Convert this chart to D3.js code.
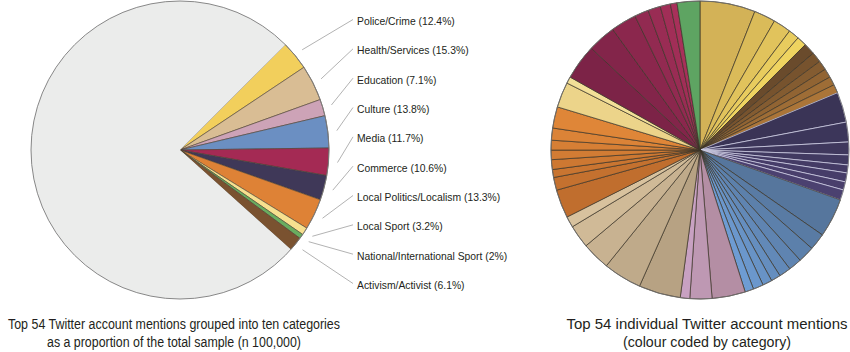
<!DOCTYPE html>
<html>
<head>
<meta charset="utf-8">
<script src="https://cdnjs.cloudflare.com/ajax/libs/d3/7.8.5/d3.min.js"></script>
<style>
    body { margin: 0; background: #fff; }
    svg text { font-family: 'Liberation Sans', 'DejaVu Sans', sans-serif; fill: #231f20; }
</style>
</head>
<body>
<div id="chart"></div>
<script>

// ---- DATA ----
// left pie, clockwise from the top of the coloured wedge
let categories = ["Police/Crime", "Health/Services", "Education", "Culture", "Media", "Commerce",
    "Local Politics/Localism", "Local Sport", "National/International Sport", "Activism/Activist"];
let categoryShares = [12.4, 15.3, 7.1, 13.8, 11.7, 10.6, 13.3, 3.2, 2, 6.1];
let otherShare = 300;   // rest of the sample (grey)

// right pie, one value per account, clockwise from 12 o'clock
let accountOrder = ["Police/Crime", "Activism/Activist", "Commerce", "Culture", "Education",
    "Health/Services", "Local Politics/Localism", "Local Sport", "Media", "National/International Sport"];
let policeAccounts = [6.0, 2.33, 1.94, 1.17, 1.06];
let activismAccounts = [1.25, 1.11, 1.03, 0.97, 0.94, 0.92];
let commerceAccounts = [3.28, 2.14, 1.39, 1.08, 0.86, 0.97, 0.89, 1.11];
let cultureAccounts = [4.22, 1.83, 1.78, 1.44, 1.28, 1.03, 1.03, 1.11, 0.94];
let educationAccounts = [3.61, 2.39, 1.03];
let healthAccounts = [4.53, 4.17, 3.06, 2.5, 1.19];
let localPoliticsAccounts = [3.08, 1.39, 0.86, 1.06, 1.03, 1.06, 1.31, 2.31];
let localSportAccounts = [2.75, 0.72];
let mediaAccounts = [3.83, 3.06, 2.78, 1.53, 1.36, 1.11, 0.72];
let nationalSportAccounts = [2.47];

// colours
let categoryColors = ["#f2cf5c", "#d9bd94", "#cda3b7", "#6b8fc2", "#a42a54", "#3f3858",
    "#de8236", "#f7e08f", "#69ad5f", "#7a5230"];
let accountColorRanges = [
    ["#d3b257", "#efd460"], ["#6a4b2c", "#ab7538"], ["#3a3456", "#4b4170"],
    ["#56769d", "#6e9cd3"], ["#b48ea4", "#c8a1c2"], ["#b7a283", "#d8c29e"],
    ["#c06e2e", "#df8638"], ["#ecd48a", "#f2df98"], ["#7c2347", "#a8305a"], ["#5ea462", "#5ea462"]
];

let width = 850, height = 352;

let svg = d3.select("#chart").append("svg")
    .attr("width", width)
    .attr("height", height);


/*   LEFT PIE   */
let leftCenter = {x: 180, y: 150}, leftRadius = 149;

let leftData = categories.map((c, i) => ({name: c, value: categoryShares[i], color: categoryColors[i]}));
leftData.push({name: "Other", value: otherShare, color: "#ebeceb"});

let pieLeft = d3.pie()
    .sort(null)
    .value(d => d.value)
    .startAngle(Math.PI / 4)
    .endAngle(Math.PI / 4 + 2 * Math.PI);

let arcLeft = d3.arc().innerRadius(0).outerRadius(leftRadius);
let arcLeader = d3.arc().innerRadius(158).outerRadius(158);

let gLeft = svg.append("g")
    .attr("transform", "translate(" + leftCenter.x + "," + leftCenter.y + ")");

let leftArcs = pieLeft(leftData);

gLeft.selectAll(".slice_left")
    .data(leftArcs)
    .enter()
    .append("path")
    .attr("class", "slice_left")
    .attr("d", arcLeft)
    .attr("fill", d => d.data.color)
    .attr("stroke", d => d.data.name === "Other" ? "none" : "#4d4232")
    .attr("stroke-width", 0.6);

gLeft.append("circle")
    .attr("r", leftRadius)
    .attr("fill", "none")
    .attr("stroke", "#7a7a7a")
    .attr("stroke-width", 0.9);

// labels
let labelY = d3.scaleLinear().domain([0, categories.length - 1]).range([21, 285]);
let labelX = 357;

let labelArcs = leftArcs.filter(d => d.data.name !== "Other");

svg.selectAll(".leader")
    .data(labelArcs)
    .enter()
    .append("line")
    .attr("class", "leader")
    .attr("x1", d => leftCenter.x + arcLeader.centroid(d)[0])
    .attr("y1", d => leftCenter.y + arcLeader.centroid(d)[1])
    .attr("x2", labelX - 4)
    .attr("y2", (d, i) => labelY(i) - 1.5)
    .attr("stroke", "#b3b3b3")
    .attr("stroke-width", 1);

svg.selectAll(".label_left")
    .data(labelArcs)
    .enter()
    .append("text")
    .attr("class", "label_left")
    .attr("x", labelX)
    .attr("y", (d, i) => labelY(i))
    .attr("dy", "0.35em")
    .style("font-size", "11.5px")
    .text(d => d.data.name + " (" + d.data.value + "%)")
    .each(function () {
        // narrow the face a little, the original uses a condensed font
        let len = this.getComputedTextLength();
        d3.select(this).attr("textLength", len * 0.9).attr("lengthAdjust", "spacingAndGlyphs");
    });


/*   RIGHT PIE   */
let rightCenter = {x: 700, y: 150}, rightRadius = 149;

let accountLists = [policeAccounts, activismAccounts, commerceAccounts, cultureAccounts, educationAccounts,
    healthAccounts, localPoliticsAccounts, localSportAccounts, mediaAccounts, nationalSportAccounts];

let accounts = [];
accountOrder.forEach((cat, ci) => {
    let list = accountLists[ci];
    list.forEach((v, i) => {
        let t = list.length > 1 ? i / (list.length - 1) : 0;
        accounts.push({cat: cat, value: v, color: d3.interpolateRgb(accountColorRanges[ci][0], accountColorRanges[ci][1])(t)});
    });
});

let pieRight = d3.pie().sort(null).value(d => d.value);
let arcRight = d3.arc().innerRadius(0).outerRadius(rightRadius);

let gRight = svg.append("g")
    .attr("transform", "translate(" + rightCenter.x + "," + rightCenter.y + ")");

gRight.selectAll(".slice_right")
    .data(pieRight(accounts))
    .enter()
    .append("path")
    .attr("class", "slice_right")
    .attr("d", arcRight)
    .attr("fill", d => d.data.color)
    .attr("stroke", d => d.data.cat === "Commerce" ? "#d4d4ea" : "#3b3327")
    .attr("stroke-width", 0.7);

gRight.append("circle")
    .attr("r", rightRadius)
    .attr("fill", "none")
    .attr("stroke", "#6d6d6d")
    .attr("stroke-width", 0.8);


/*   TITLES   */
let titles = [
    {x: 174, lines: ["Top 54 Twitter account mentions grouped into ten categories", "as a proportion of the total sample (n 100,000)"], widths: [332, 254]},
    {x: 707, lines: ["Top 54 individual Twitter account mentions", "(colour coded by category)"], widths: [281, 168]}
];

titles.forEach(t => {
    svg.selectAll(null)
        .data(t.lines)
        .enter()
        .append("text")
        .attr("x", t.x)
        .attr("y", (d, i) => 329 + i * 18)
        .attr("text-anchor", "middle")
        .attr("textLength", (d, i) => t.widths[i])
        .attr("lengthAdjust", "spacingAndGlyphs")
        .style("font-size", "14px")
        .text(d => d);
});

</script>
</body>
</html>
